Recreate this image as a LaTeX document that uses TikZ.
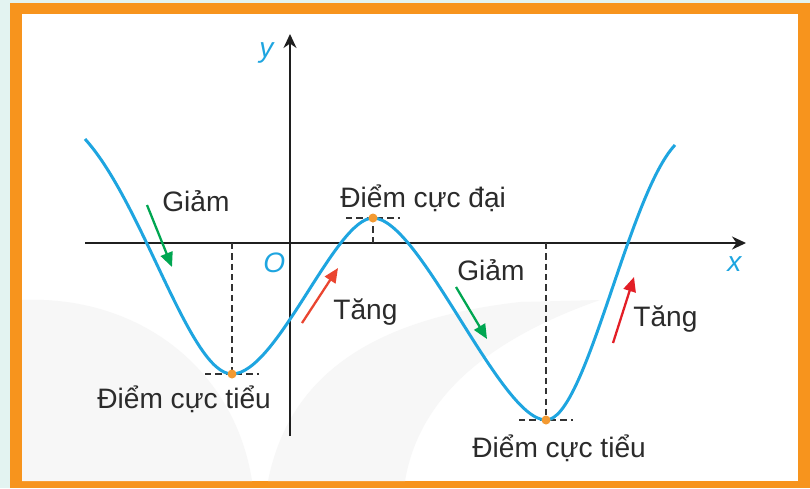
\documentclass[tikz,border=0pt]{standalone}
\usepackage{fontspec}
\setmainfont{Liberation Sans}
\usetikzlibrary{arrows.meta, positioning}
\definecolor{frameOrange}{HTML}{F7941D}
\definecolor{edgeTeal}{HTML}{E3F3F1}
\definecolor{curveBlue}{HTML}{1EA5E0}
\definecolor{decGreen}{HTML}{00A651}
\definecolor{incRed}{HTML}{EA4530}
\definecolor{incRedB}{HTML}{E31E26}
\definecolor{dotOrange}{HTML}{F39A32}
\definecolor{textGray}{HTML}{2B2B2B}
\definecolor{markGray}{HTML}{F7F7F7}

\begin{document}
\begin{tikzpicture}[
    x=0.02cm, y=-0.02cm,
    axisline/.style={line width=1.1pt, draw=black!88, -{Stealth[length=2.8mm, width=2.6mm, inset=0.9mm]}},
    curveline/.style={line width=1.7pt, draw=curveBlue},
    guide/.style={line width=0.65pt, draw=black!80, dash pattern=on 3.6pt off 2.3pt},
    downarrow/.style={line width=1.3pt, draw=decGreen, -{Triangle[length=2.9mm, width=2.5mm]}},
    uparrow/.style={line width=1.3pt, -{Triangle[length=2.9mm, width=2.5mm]}},
    txtlabel/.style={inner sep=0pt, anchor=base west, text=textGray, font=\fontsize{16}{19}\selectfont},
    axislabel/.style={inner sep=0pt, anchor=base west, text=curveBlue, font=\fontsize{16}{19}\selectfont\itshape},
    extremum/.style={circle, fill=dotOrange, inner sep=0pt, minimum size=1.8mm}
]

% frame
\fill[edgeTeal] (0,0) rectangle (810,488);
\fill[frameOrange] (10,3) rectangle (810,488);
\fill[white] (22,14) rectangle (798,481);
\useasboundingbox (0,0) rectangle (810,488);

% faint watermark
\fill[markGray] (22,300) .. controls (140,295) and (235,370) .. (252,481) -- (22,481) -- cycle;
\fill[markGray] (268,481) .. controls (290,370) and (380,318) .. (520,302) -- (600,300)
    .. controls (500,335) and (420,390) .. (405,481) -- cycle;

% axes
\coordinate (origin) at (290,243);
\coordinate (xleft) at (85,243);
\coordinate (xright) at (746,243);
\coordinate (ybottom) at (290,436);
\coordinate (ytop) at (290,34);
\draw[axisline] (xleft) -- (xright);
\draw[axisline] (ybottom) -- (ytop);
\node[axislabel] (ylbl) at (259,57) {y};
\node[axislabel] (xlbl) at (727,271) {x};
\node[axislabel] (olbl) at (263,272) {O};

% extrema
\coordinate (start) at (85,139);
\coordinate (min1) at (232,374);
\coordinate (max) at (373,218);
\coordinate (min2) at (546,420);
\coordinate (end) at (675,145);

% guide lines
\draw[guide] (min1 |- origin) -- (min1);
\draw[guide] (min1) ++(-27,0) -- ++(54,0);
\draw[guide] (max |- origin) -- (max);
\draw[guide] (max) ++(-27,0) -- ++(54,0);
\draw[guide] (min2 |- origin) -- (min2);
\draw[guide] (min2) ++(-27,0) -- ++(54,0);

% graph
\draw[curveline] (start) .. controls (143,203) and (190,374) .. (min1)
    .. controls (277,374) and (335,218) .. (max)
    .. controls (420,218) and (500,420) .. (min2)
    .. controls (586,420) and (628,195) .. (end);

\node[extremum] (pmin1) at (min1) {};
\node[extremum] (pmax) at (max) {};
\node[extremum] (pmin2) at (min2) {};

% direction arrows
\coordinate (g1a) at (147,205); \coordinate (g1b) at (172,267);
\coordinate (r1a) at (302,323); \coordinate (r1b) at (338,268);
\coordinate (g2a) at (456,287); \coordinate (g2b) at (487,339);
\coordinate (r2a) at (613,343); \coordinate (r2b) at (634,277);
\draw[downarrow] (g1a) -- (g1b);
\draw[uparrow, draw=incRed] (r1a) -- (r1b);
\draw[downarrow] (g2a) -- (g2b);
\draw[uparrow, draw=incRedB] (r2a) -- (r2b);

% labels
\node[txtlabel] (giam1) at (162,211) {Giảm};
\node[txtlabel] (cucdai) at (340,207) {Điểm cực đại};
\node[txtlabel] (tieu1) at (97,408) {Điểm cực tiểu};
\node[txtlabel] (tang1) at (333,319) {Tăng};
\node[txtlabel] (giam2) at (457,280) {Giảm};
\node[txtlabel] (tang2) at (633,326) {Tăng};
\node[txtlabel] (tieu2) at (472,457) {Điểm cực tiểu};

\end{tikzpicture}
\end{document}
